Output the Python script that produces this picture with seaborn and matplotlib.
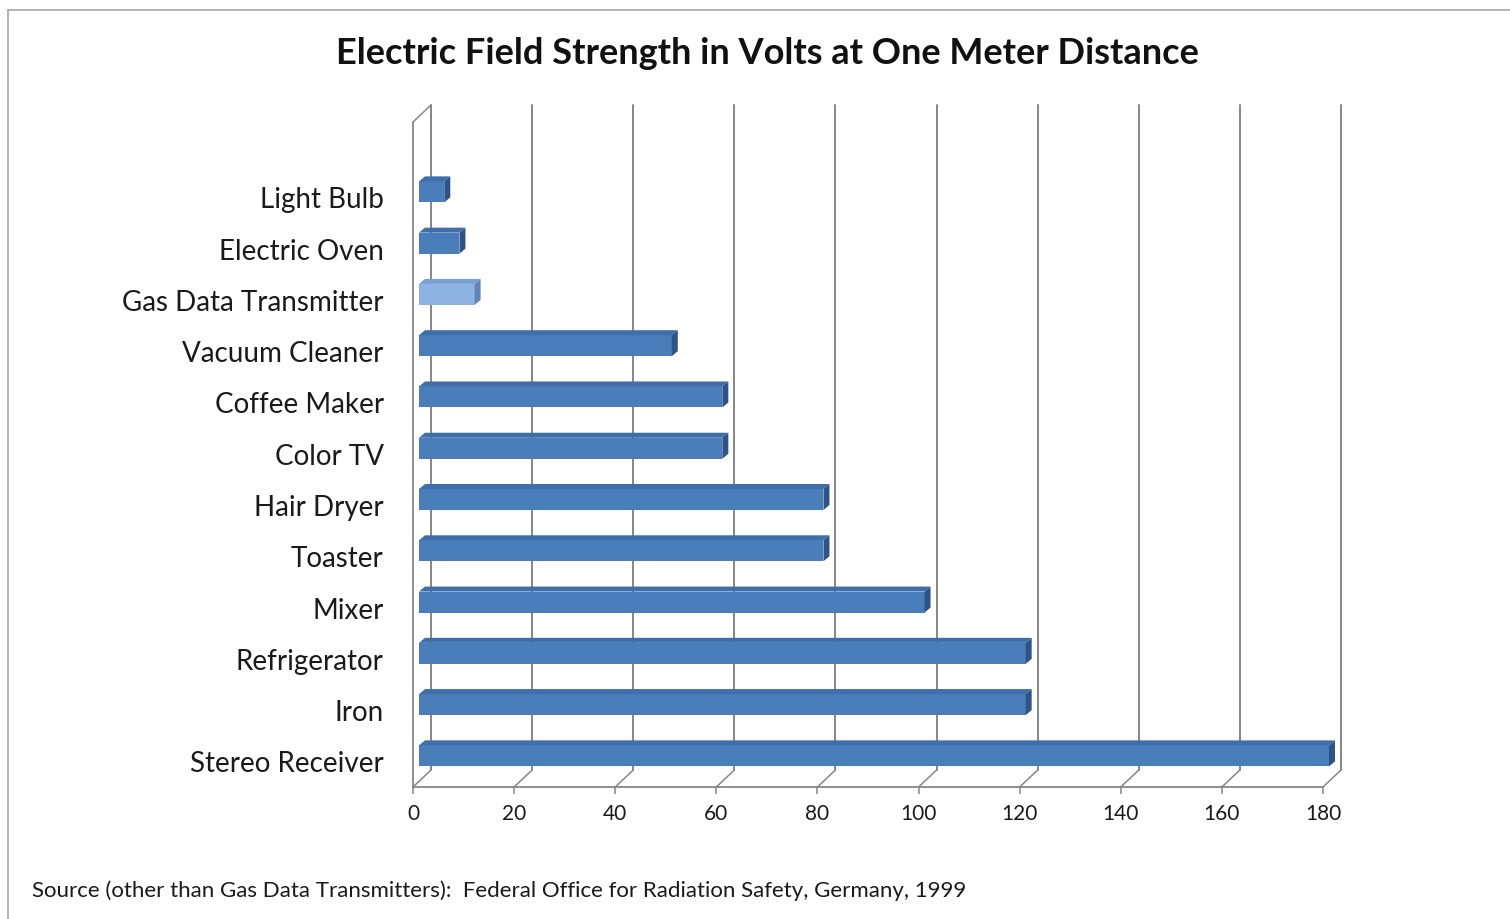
import matplotlib
matplotlib.use("Agg")
import matplotlib.pyplot as plt
import matplotlib.transforms as mtransforms
from matplotlib.patches import Polygon
from matplotlib.lines import Line2D
import pandas as pd
import seaborn as sns

# data
categories = ["Light Bulb", "Electric Oven", "Gas Data Transmitter", "Vacuum Cleaner",
              "Coffee Maker", "Color TV", "Hair Dryer", "Toaster", "Mixer",
              "Refrigerator", "Iron", "Stereo Receiver"]
volts = [5, 8, 11, 50, 60, 60, 80, 80, 100, 120, 120, 180]
highlight = "Gas Data Transmitter"
x_ticks = [0, 20, 40, 60, 80, 100, 120, 140, 160, 180]

title = "Electric Field Strength in Volts at One Meter Distance"
source = "Source (other than Gas Data Transmitters):  Federal Office for Radiation Safety, Germany, 1999"

# face colours (front, top, side)
BLUE = ("#4a7ebb", "#3f6ea9", "#2d5487")
LIGHT = ("#8db3e2", "#7aa1d2", "#5f86b8")
GRID = "#868686"

sns.set_theme(style="white")
plt.rcParams['font.family'] = ['Lato', 'DejaVu Sans']

df = pd.DataFrame({"item": categories, "volts": volts})

W, H, DPI = 1510, 919, 100
fig = plt.figure(figsize=(W / DPI, H / DPI), dpi=DPI)
ax = fig.add_axes([413 / W, 1 - 787 / H, 910 / W, 665 / H])

palette = {c: (LIGHT[0] if c == highlight else BLUE[0]) for c in categories}
sns.barplot(data=df, x="volts", y="item", hue="item", palette=palette,
            orient="h", width=0.41, legend=False, ax=ax, saturation=1)

ax.set_xlim(0, 180)
ax.set_ylim(11.49, -1.48)

# pixel offsets for the fake 3D look
def px(dx, dy):
    return mtransforms.ScaledTranslation(dx / DPI, dy / DPI, fig.dpi_scale_trans)

wall = px(18, 17)
shift = px(6, 6)
inv = ax.transData.inverted()
o = inv.transform((0, 0))
d = inv.transform((6, 5))
ddx, ddy = d[0] - o[0], d[1] - o[1]

# back wall gridlines and floor diagonals
xt = ax.get_xaxis_transform()
ident = mtransforms.IdentityTransform()
for t in x_ticks:
    ax.add_line(Line2D([t, t], [0, 1], transform=xt + wall, color=GRID, lw=1.4,
                       zorder=0, clip_on=False))
    a = xt.transform((t, 0))
    b = (xt + wall).transform((t, 0))
    ax.add_line(Line2D([a[0], b[0]], [a[1], b[1]], transform=ident,
                       color=GRID, lw=1.1, zorder=0, clip_on=False))
a = xt.transform((0, 1))
b = (xt + wall).transform((0, 1))
ax.add_line(Line2D([a[0], b[0]], [a[1], b[1]], transform=ident,
                   color=GRID, lw=1.1, zorder=0, clip_on=False))

# bars: front face shifted, plus top and side faces
for p, c in zip(ax.patches, categories):
    cols = LIGHT if c == highlight else BLUE
    p.set_transform(ax.transData + shift)
    p.set_zorder(3)
    p.set_edgecolor("none")
    p.set_clip_on(False)
    x0, y0 = p.get_x(), p.get_y()
    w, h = p.get_width(), p.get_height()
    yt = min(y0, y0 + h)
    x1 = x0 + w
    top = Polygon([(x0, yt), (x1, yt), (x1 + ddx, yt + ddy), (x0 + ddx, yt + ddy)],
                  closed=True, facecolor=cols[1], edgecolor="none",
                  transform=ax.transData + shift, zorder=3, clip_on=False)
    side = Polygon([(x1, yt), (x1 + ddx, yt + ddy), (x1 + ddx, yt + h + ddy), (x1, yt + h)],
                   closed=True, facecolor=cols[2], edgecolor="none",
                   transform=ax.transData + shift, zorder=3, clip_on=False)
    ax.add_patch(top)
    ax.add_patch(side)

sns.despine(ax=ax, top=True, right=True)
for s in ("left", "bottom"):
    ax.spines[s].set_color(GRID)
    ax.spines[s].set_linewidth(1.3)

ax.set_xticks(x_ticks)
ax.set_xticklabels([str(t) for t in x_ticks], fontsize=15, color="#1a1a1a")
ax.tick_params(axis="x", length=5, width=1.1, color=GRID, pad=7, bottom=True)
ax.tick_params(axis="y", length=0, pad=21, labelsize=20, labelcolor="#1a1a1a")
ax.set_xlabel("")
ax.set_ylabel("")
ax.grid(False)

fig.text(0.508, 1 - 54 / H, title, ha="center", va="center", fontsize=26,
         fontweight="bold", color="#111111")
fig.text(32 / W, 1 - 891 / H, source, ha="left", va="center", fontsize=16,
         color="#1a1a1a")

# outer chart border (left and top edges visible)
fig.add_artist(Line2D([8 / W, 8 / W], [0, 1 - 10 / H], transform=fig.transFigure,
                      color="#a6a6a6", lw=1.2))
fig.add_artist(Line2D([8 / W, 1], [1 - 10 / H, 1 - 10 / H], transform=fig.transFigure,
                      color="#a6a6a6", lw=1.2))

fig.savefig("out.png", dpi=DPI)
